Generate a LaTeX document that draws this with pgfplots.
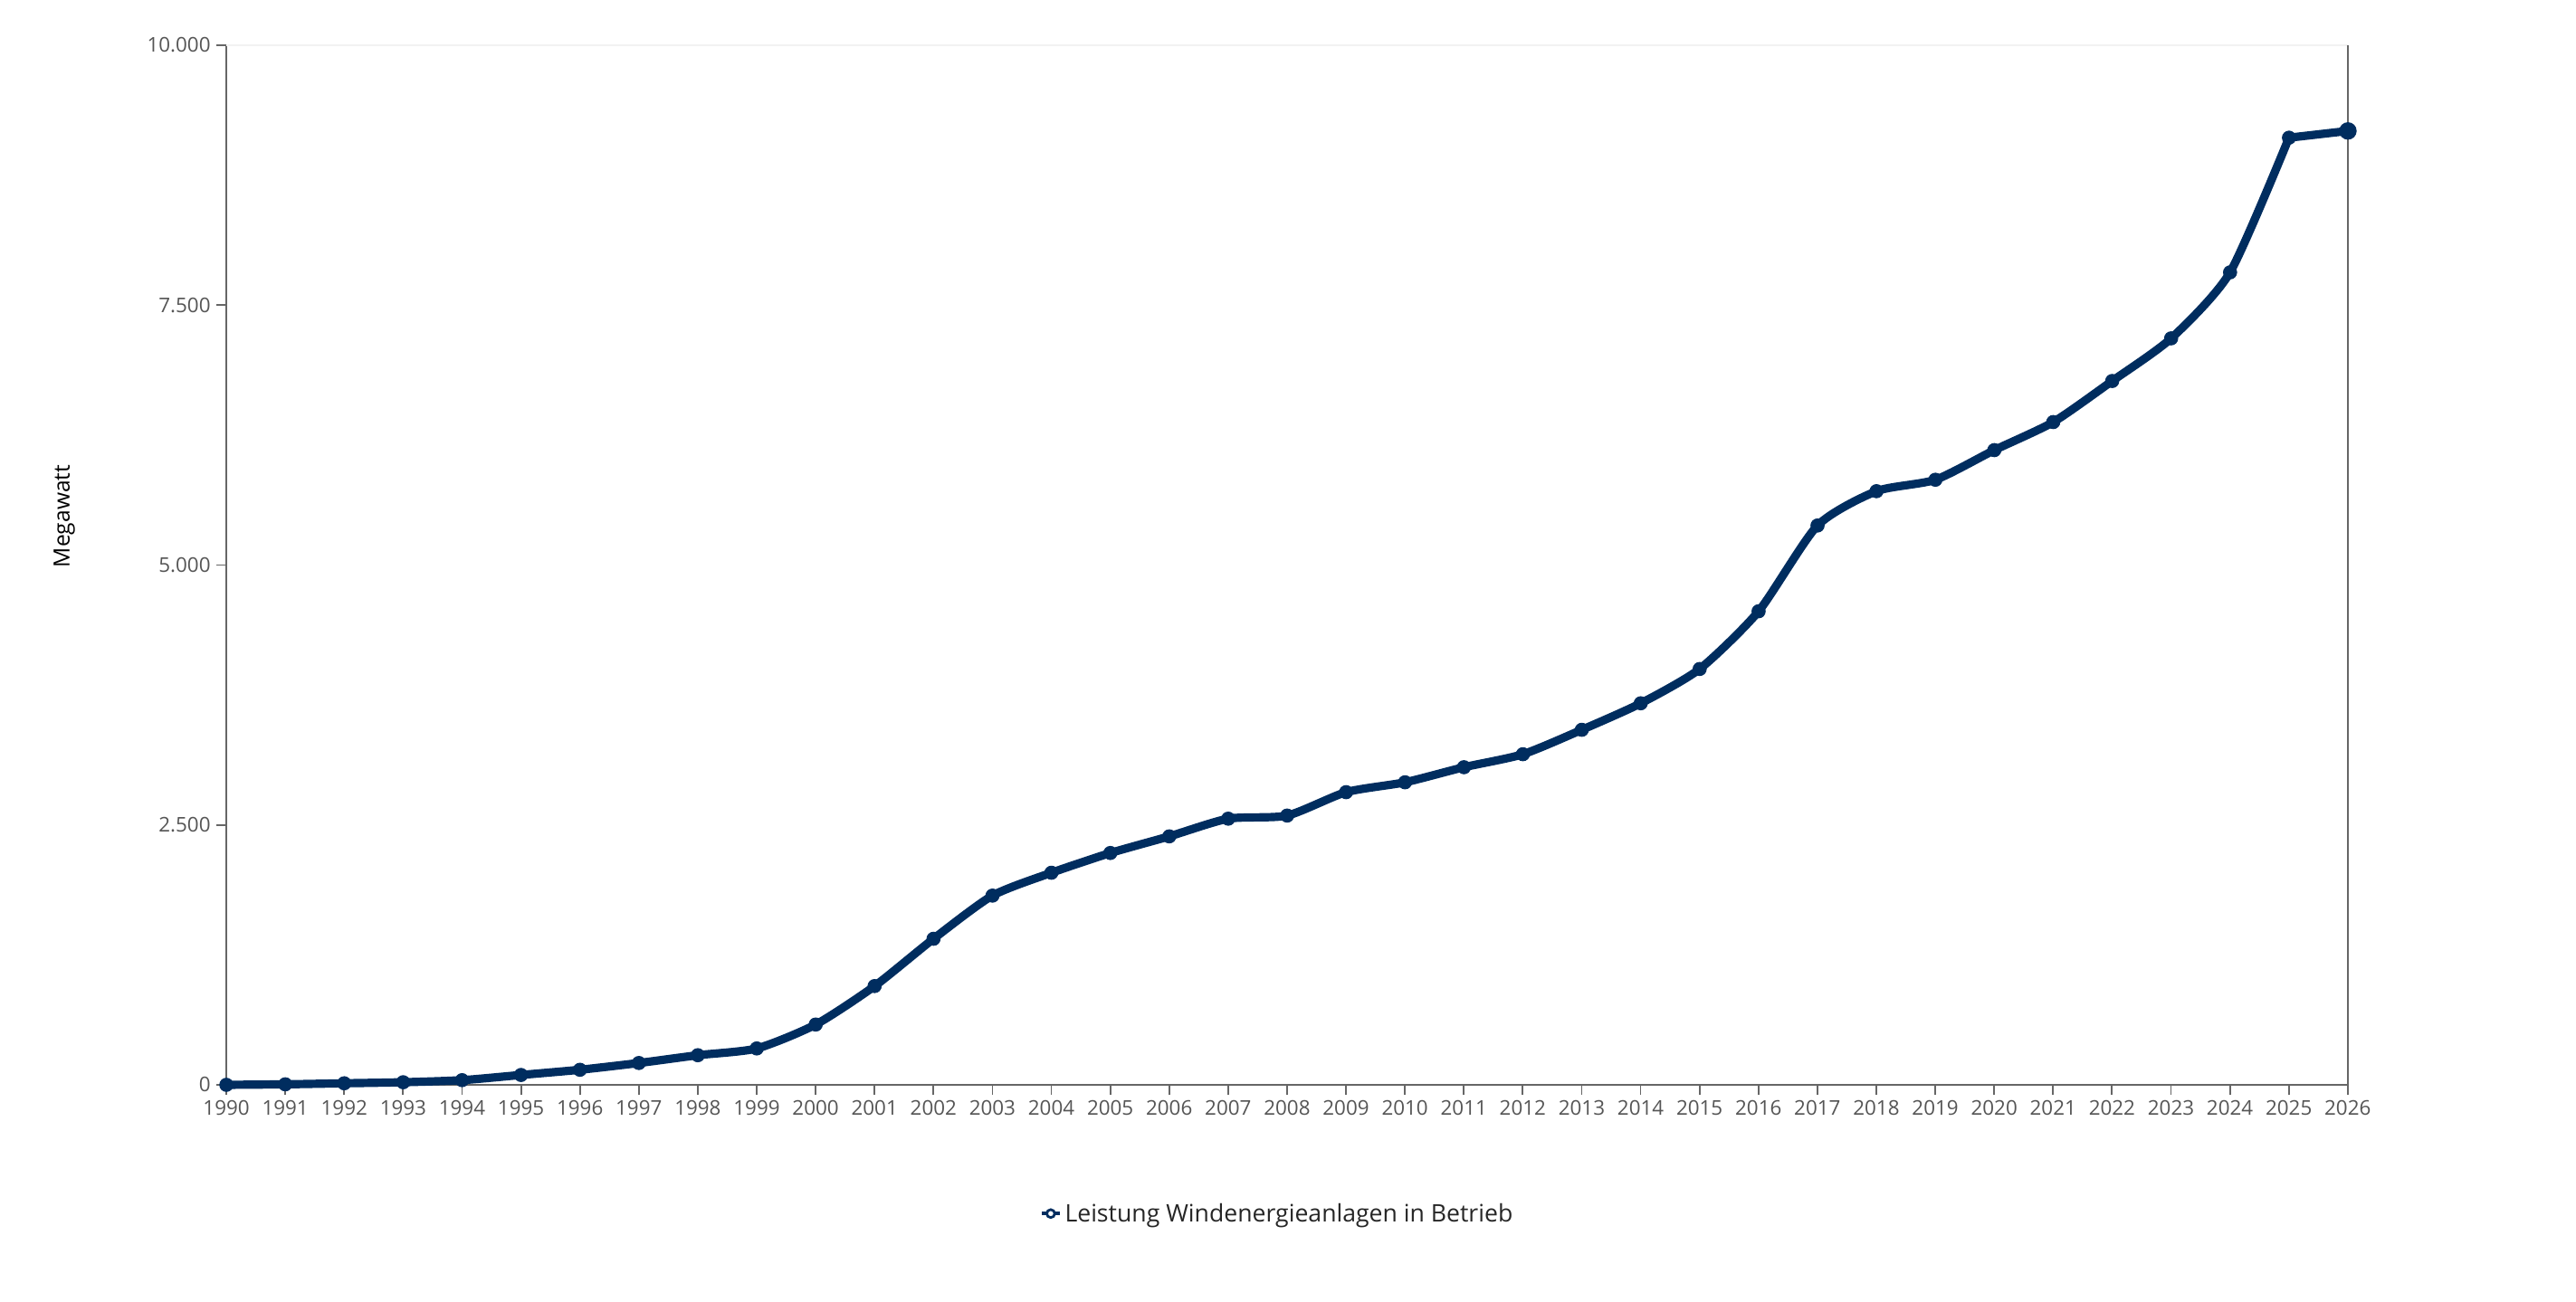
\documentclass[border=0pt]{standalone}
\usepackage{pgfplots}
\pgfplotsset{compat=1.18}
\usepackage{fontspec}
\setmainfont{Open Sans}
\definecolor{navy}{RGB}{0,45,95}
\definecolor{axgray}{RGB}{102,102,102}
\definecolor{txtgray}{RGB}{85,85,85}
\begin{document}
\begin{tikzpicture}
\path[use as bounding box] (-136.2pt,-130.2pt) rectangle (1413.8pt,653pt);
\begin{axis}[
  at={(0,0)}, anchor=south west, scale only axis,
  width=1276.6pt, height=625.8pt,
  xmin=1990, xmax=2026, ymin=0, ymax=10000,
  axis lines*=left,
  axis line style={axgray, line width=1.1pt},
  xtick={1990,...,2026}, ytick={0,2500,5000,7500,10000},
  scaled y ticks=false,
  tick align=outside, major tick length=6pt,
  tick style={axgray, line width=1pt},
  font=\fontsize{12.2}{14}\selectfont,
  ticklabel style={txtgray},
  /pgf/number format/assume math mode=true,
  yticklabel style={/pgf/number format/use comma, /pgf/number format/1000 sep={.}},
  xticklabel style={/pgf/number format/1000 sep={}},
  ylabel={Megawatt},
  ylabel style={at={(axis description cs:0,0.5)}, anchor=center, yshift=97.5pt, xshift=29.4pt, black,
    font=\fontsize{13.4}{15}\selectfont},
  legend style={at={(axis description cs:0.4957,0)}, anchor=center, yshift=-77.5pt,
    draw=none, fill=none, font=\fontsize{14.5}{16}\selectfont, text=black!85},
  clip=false,
]
\draw[black!5, line width=1pt] (axis cs:1990,10000) -- (axis cs:2026,10000);
\draw[axgray, line width=1pt] (axis cs:2026,0) -- (axis cs:2026,10000);
\addplot[navy, line width=5pt, smooth, tension=0.4, mark=*, mark size=4pt, mark options={fill=navy, line width=0.5pt},
  legend image code/.code={\draw[navy, line width=2pt] (0pt,0pt) -- (11pt,0pt);
    \draw[navy, line width=1.5pt, fill=white] (5.5pt,0pt) circle (2.4pt);}]
coordinates {
(1990,0) (1991,5) (1992,15) (1993,25) (1994,45) (1995,95) (1996,145) (1997,210)
(1998,285) (1999,350) (2000,580) (2001,950) (2002,1405) (2003,1820) (2004,2040)
(2005,2230) (2006,2390) (2007,2560) (2008,2590) (2009,2815) (2010,2910) (2011,3055)
(2012,3180) (2013,3415) (2014,3670) (2015,4000) (2016,4555) (2017,5380) (2018,5710)
(2019,5820) (2020,6105) (2021,6375) (2022,6770) (2023,7180) (2024,7815) (2025,9110)
};
\addlegendentry{Leistung Windenergieanlagen in Betrieb}
\addplot[navy, line width=5pt, mark=*, mark indices={2}, mark size=5pt, mark options={fill=navy, line width=0.5pt}, forget plot]
coordinates {(2025,9110) (2026,9175)};
\end{axis}
\end{tikzpicture}
\end{document}
